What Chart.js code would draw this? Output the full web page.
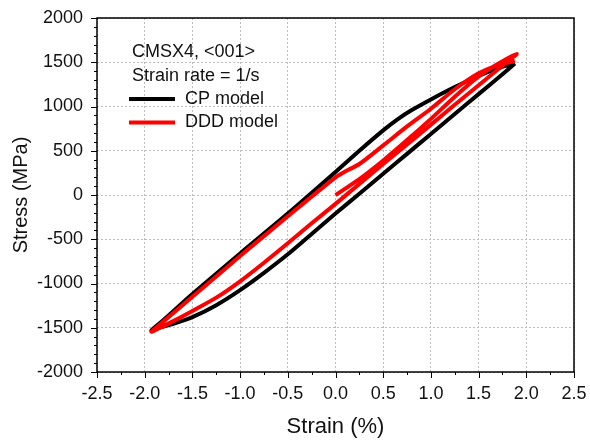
<!DOCTYPE html>
<html>
<head>
<meta charset="utf-8">
<script src="https://cdn.jsdelivr.net/npm/chart.js@4"></script>
<style>
html, body { margin: 0; padding: 0; background: #fff; }
#wrap { width: 590px; height: 441px; }
</style>
</head>
<body>
<div id="wrap"><canvas id="loopChart"></canvas></div>
<script>
// CP model loop: lower branch (right tip -> left tip), then upper branch back
var cpStrain = [1.88, 1.75, 1.5, 1.25, 1.0, 0.75, 0.5, 0.25, 0.0, -0.25, -0.5, -0.75, -1.0, -1.25, -1.5, -1.7, -1.85, -1.93,
                -1.8, -1.5, -1.0, -0.5, 0.0, 0.25, 0.5, 0.65, 0.8, 1.0, 1.25, 1.5, 1.7, 1.88];
var cpStress = [1485, 1365, 1140, 915, 690, 465, 240, 15, -210, -440, -670, -880, -1075, -1245, -1380, -1455, -1500, -1530,
                -1410, -1120, -660, -210, 260, 500, 730, 855, 960, 1080, 1220, 1345, 1430, 1490];

// DDD model: initial loading from 0, unloading, reloading
var dddStrain = [0, 0.25, 0.5, 0.75, 1.0, 1.25, 1.5, 1.7, 1.9,
                 1.75, 1.5, 1.25, 1.0, 0.75, 0.5, 0.25, 0, -0.25, -0.5, -0.75, -1.0, -1.25, -1.5, -1.7, -1.85, -1.93,
                 -1.8, -1.5, -1.0, -0.5, 0, 0.1, 0.25, 0.5, 0.75, 1.0, 1.25, 1.5, 1.7, 1.88];
var dddStress = [0, 180, 390, 620, 860, 1110, 1340, 1480, 1595,
                 1460, 1240, 1020, 795, 570, 350, 125, -100, -320, -545, -765, -975, -1160, -1310, -1425, -1505, -1545,
                 -1425, -1150, -690, -240, 200, 265, 350, 560, 775, 975, 1195, 1375, 1465, 1515];

var seriesNames = ["CP model", "DDD model"];
var seriesColors = ["#000000", "#ff0000"];
var noteLines = ["CMSX4, <001>", "Strain rate = 1/s"];

var FONT = "'Liberation Sans', Arial, sans-serif";

function toPoints(xs, ys) {
  var pts = [];
  for (var i = 0; i < xs.length; i++) pts.push({x: xs[i], y: ys[i]});
  return pts;
}

// frame, minor ticks and the note/legend box
var decor = {
  id: 'decor',
  afterDatasetsDraw: function(chart) {
    var ctx = chart.ctx;
    var a = chart.chartArea;
    var xs = chart.scales.x, ys = chart.scales.y;
    ctx.save();
    ctx.strokeStyle = '#000';
    ctx.lineWidth = 1.5;
    ctx.strokeRect(a.left, a.top, a.right - a.left, a.bottom - a.top);

    ctx.lineWidth = 1;
    ctx.beginPath();
    for (var v = -2000; v <= 2000; v += 100) {
      var py = Math.round(ys.getPixelForValue(v)) + 0.5;
      var len = (v % 500 === 0) ? 6 : 3;
      ctx.moveTo(a.left - len, py); ctx.lineTo(a.left, py);
    }
    for (var s = -2.5; s <= 2.5001; s += 0.25) {
      var px = Math.round(xs.getPixelForValue(s)) + 0.5;
      var len2 = (Math.abs(s * 2 - Math.round(s * 2)) < 0.01) ? 6 : 3;
      ctx.moveTo(px, a.bottom); ctx.lineTo(px, a.bottom + len2);
    }
    ctx.stroke();

    // note text and legend
    ctx.fillStyle = '#111';
    ctx.font = '18px ' + FONT;
    ctx.textBaseline = 'middle';
    ctx.textAlign = 'left';
    var lx = a.left + 35;
    ctx.fillText(noteLines[0], lx, 52);
    ctx.fillText(noteLines[1], lx, 76);
    var ds = chart.data.datasets;
    var order = [1, 0];
    for (var k = 0; k < order.length; k++) {
      var d = ds[order[k]];
      var y = 99 + k * 23.5;
      ctx.strokeStyle = d.borderColor;
      ctx.lineWidth = 4;
      ctx.beginPath();
      ctx.moveTo(lx - 3, y); ctx.lineTo(lx + 43, y);
      ctx.stroke();
      ctx.fillText(d.label, lx + 53, y);
    }
    ctx.restore();
  }
};

var ctx = document.getElementById('loopChart').getContext('2d');
var chart = new Chart(ctx, {
  type: 'scatter',
  data: {
    datasets: [
      {
        label: seriesNames[1],
        data: toPoints(dddStrain, dddStress),
        showLine: true,
        borderColor: seriesColors[1],
        borderWidth: 4,
        pointRadius: 0,
        tension: 0.25,
        order: 0
      },
      {
        label: seriesNames[0],
        data: toPoints(cpStrain, cpStress),
        showLine: true,
        borderColor: seriesColors[0],
        borderWidth: 4,
        pointRadius: 0,
        tension: 0.25,
        order: 1
      }
    ]
  },
  options: {
    responsive: true,
    maintainAspectRatio: false,
    animation: false,
    layout: { padding: { left: 0, right: 16, top: 18, bottom: 0 } },
    plugins: { legend: { display: false }, tooltip: { enabled: false } },
    scales: {
      x: {
        type: 'linear',
        min: -2.5, max: 2.5,
        afterFit: function(sc) { sc.height = 69; sc.paddingLeft = 0; sc.paddingRight = 0; },
        ticks: {
          stepSize: 0.5,
          padding: 11,
          color: '#111',
          font: { family: FONT, size: 18 },
          callback: function(v) { return v.toFixed(1); }
        },
        grid: { color: '#bdbdbd', lineWidth: 1, drawTicks: false },
        border: { display: false, dash: [2, 2] },
        title: {
          display: true, text: 'Strain (%)', color: '#111',
          font: { family: FONT, size: 22 },
          padding: { top: 0, bottom: 1 }
        }
      },
      y: {
        min: -2000, max: 2000,
        afterFit: function(sc) { sc.width = 97; sc.paddingTop = 0; sc.paddingBottom = 0; },
        ticks: {
          stepSize: 500,
          padding: 14,
          color: '#111',
          font: { family: FONT, size: 18 },
          callback: function(v) { return String(v); }
        },
        grid: { color: '#bdbdbd', lineWidth: 1, drawTicks: false },
        border: { display: false, dash: [2, 2] },
        title: {
          display: true, text: 'Stress (MPa)', color: '#111',
          font: { family: FONT, size: 20 },
          padding: { top: 9, bottom: 0 }
        }
      }
    }
  },
  plugins: [decor]
});
</script>
</body>
</html>
